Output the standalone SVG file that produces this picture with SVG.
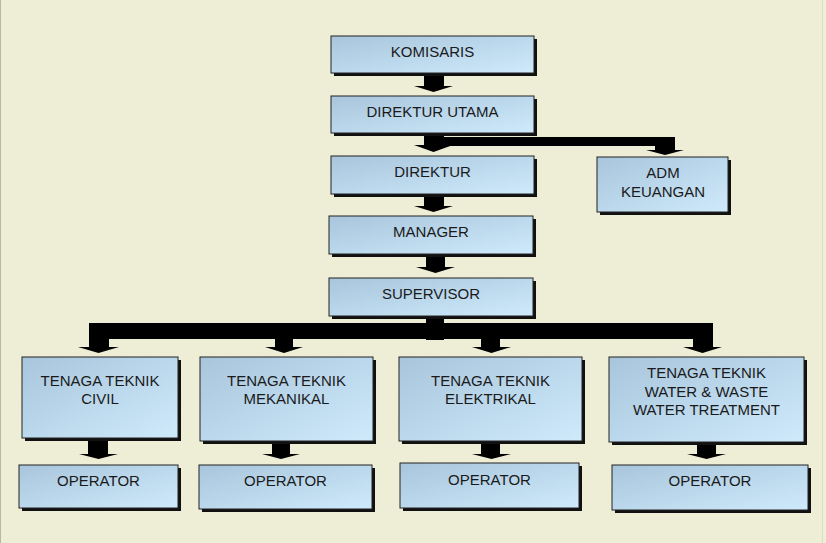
<svg xmlns="http://www.w3.org/2000/svg" width="826" height="543" viewBox="0 0 826 543">
<defs>
<linearGradient id="g" x1="0" y1="0" x2="1" y2="1">
<stop offset="0" stop-color="#a8c5dc"/>
<stop offset="1" stop-color="#cfeafb"/>
</linearGradient>
<style>
.sh{fill:#111;}
.bx{fill:url(#g);stroke:#222;stroke-width:1;}
.t{font-family:"Liberation Sans",Arial,sans-serif;font-size:15px;fill:#1a1a1a;text-anchor:middle;}
.c{fill:#000;}
</style>
</defs>
<rect width="826" height="543" fill="#eeedd5"/>
<line x1="0.5" y1="0" x2="0.5" y2="543" stroke="#b9b8a6" stroke-width="1"/>
<line x1="822.5" y1="0" x2="822.5" y2="543" stroke="#dcdbc6" stroke-width="1"/>

<g id="connectors">
<rect class="c" x="424" y="73" width="20" height="14"/>
<polygon class="c" points="414,86 453,86 433.5,92"/>
<rect class="c" x="424" y="133" width="20" height="13"/>
<polygon class="c" points="414,145 453,145 433.5,152"/>
<rect class="c" x="443" y="137" width="232" height="9"/>
<rect class="c" x="655" y="137" width="20" height="14"/>
<polygon class="c" points="646,150 684,150 665,155"/>
<rect class="c" x="424" y="194" width="20" height="13"/>
<polygon class="c" points="414,206 453,206 433.5,212"/>
<rect class="c" x="426" y="254" width="19" height="14"/>
<polygon class="c" points="416,267 455,267 435.5,273"/>
<rect class="c" x="426" y="316" width="18" height="24"/>
<rect class="c" x="89" y="323" width="624" height="16"/>
<rect class="c" x="89" y="338" width="20" height="10"/>
<polygon class="c" points="78,347 119,347 98.5,353"/>
<rect class="c" x="275" y="338" width="18" height="10"/>
<polygon class="c" points="265,347 303,347 284,353"/>
<rect class="c" x="481" y="338" width="19" height="10"/>
<polygon class="c" points="472,347 511,347 491.5,353"/>
<rect class="c" x="693" y="338" width="20" height="10"/>
<polygon class="c" points="683,347 722,347 702.5,353"/>
<rect class="c" x="88" y="438" width="20" height="17"/>
<polygon class="c" points="79,454 118,454 98.5,459"/>
<rect class="c" x="272" y="441" width="18" height="14"/>
<polygon class="c" points="262,454 300,454 281,459"/>
<rect class="c" x="481" y="441" width="19" height="14"/>
<polygon class="c" points="472,454 511,454 491.5,459"/>
<rect class="c" x="697" y="442" width="19" height="13"/>
<polygon class="c" points="687,454 726,454 706.5,459"/>
</g>

<g id="komisaris">
<rect class="sh" x="334" y="39" width="203" height="37"/>
<rect class="bx" x="331" y="36" width="203" height="37"/>
<text class="t" x="432.5" y="57">KOMISARIS</text>
</g>
<g id="direktur-utama">
<rect class="sh" x="334" y="99" width="203" height="37"/>
<rect class="bx" x="331" y="96" width="203" height="37"/>
<text class="t" x="432.5" y="117">DIREKTUR UTAMA</text>
</g>
<g id="direktur">
<rect class="sh" x="334" y="159" width="203" height="38"/>
<rect class="bx" x="331" y="156" width="203" height="38"/>
<text class="t" x="432.5" y="177">DIREKTUR</text>
</g>
<g id="adm-keuangan">
<rect class="sh" x="600" y="160" width="131" height="55"/>
<rect class="bx" x="597" y="157" width="131" height="55"/>
<text class="t" x="663" y="178">ADM</text>
<text class="t" x="663" y="197">KEUANGAN</text>
</g>
<g id="manager">
<rect class="sh" x="332" y="219" width="204" height="38"/>
<rect class="bx" x="329" y="216" width="204" height="38"/>
<text class="t" x="431" y="237">MANAGER</text>
</g>
<g id="supervisor">
<rect class="sh" x="332" y="281" width="204" height="38"/>
<rect class="bx" x="329" y="278" width="204" height="38"/>
<text class="t" x="431" y="299">SUPERVISOR</text>
</g>
<g id="tt-civil">
<rect class="sh" x="25" y="360" width="156" height="81"/>
<rect class="bx" x="22" y="357" width="156" height="81"/>
<text class="t" x="100" y="386">TENAGA TEKNIK</text>
<text class="t" x="100" y="404">CIVIL</text>
</g>
<g id="tt-mekanikal">
<rect class="sh" x="203" y="360" width="173" height="84"/>
<rect class="bx" x="200" y="357" width="173" height="84"/>
<text class="t" x="286.5" y="386">TENAGA TEKNIK</text>
<text class="t" x="286.5" y="404">MEKANIKAL</text>
</g>
<g id="tt-elektrikal">
<rect class="sh" x="402" y="360" width="183" height="84"/>
<rect class="bx" x="399" y="357" width="183" height="84"/>
<text class="t" x="490.5" y="386">TENAGA TEKNIK</text>
<text class="t" x="490.5" y="404">ELEKTRIKAL</text>
</g>
<g id="tt-water">
<rect class="sh" x="612" y="360" width="195" height="85"/>
<rect class="bx" x="609" y="357" width="195" height="85"/>
<text class="t" x="706.5" y="378">TENAGA TEKNIK</text>
<text class="t" x="706.5" y="397">WATER &amp; WASTE</text>
<text class="t" x="706.5" y="415">WATER TREATMENT</text>
</g>
<g id="op-civil">
<rect class="sh" x="22" y="468" width="159" height="43"/>
<rect class="bx" x="19" y="465" width="159" height="43"/>
<text class="t" x="98.5" y="486">OPERATOR</text>
</g>
<g id="op-mekanikal">
<rect class="sh" x="202" y="468" width="173" height="44"/>
<rect class="bx" x="199" y="465" width="173" height="44"/>
<text class="t" x="285.5" y="486">OPERATOR</text>
</g>
<g id="op-elektrikal">
<rect class="sh" x="403" y="466" width="179" height="45"/>
<rect class="bx" x="400" y="463" width="179" height="45"/>
<text class="t" x="489.5" y="485">OPERATOR</text>
</g>
<g id="op-water">
<rect class="sh" x="615" y="468" width="196" height="45"/>
<rect class="bx" x="612" y="465" width="196" height="45"/>
<text class="t" x="710" y="486">OPERATOR</text>
</g>
</svg>
